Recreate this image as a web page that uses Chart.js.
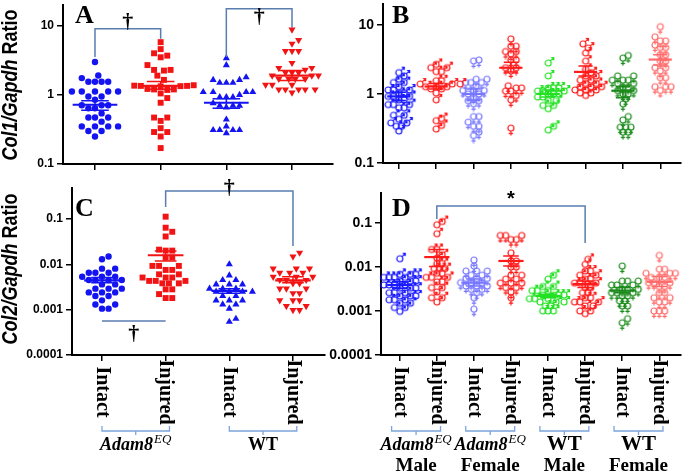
<!DOCTYPE html>
<html>
<head>
<meta charset="utf-8">
<script src="https://cdn.jsdelivr.net/npm/chart.js@4.4.1/dist/chart.umd.min.js"></script>
<style>
  html, body { margin: 0; padding: 0; background: #fff; }
  body { position: relative; width: 685px; height: 474px; overflow: hidden; }
  canvas { position: absolute; }
</style>
</head>
<body>
<canvas id="panelA" width="340" height="170" style="left:0;top:0;width:340px;height:170px"></canvas>
<canvas id="panelB" width="365" height="170" style="left:320px;top:0;width:365px;height:170px"></canvas>
<canvas id="panelC" width="340" height="304" style="left:0;top:170px;width:340px;height:304px"></canvas>
<canvas id="panelD" width="365" height="304" style="left:320px;top:170px;width:365px;height:304px"></canvas>
<script>
// categories
const catsPair = ['Intact', 'Injured', 'Intact', 'Injured'];
const catsSex = ['Intact', 'Injured', 'Intact', 'Injured', 'Intact', 'Injured', 'Intact', 'Injured'];
const ticksCol1 = [0.1, 1, 10];
const ticksCol2 = [0.0001, 0.001, 0.01, 0.1];

// A: Col1/Gapdh by genotype
const col1AdamIntact = [2.99, 1.91, 1.75, 1.55, 1.55, 1.55, 1.55, 1.12, 1.12, 1.12, 1.12, 1.12, 0.95, 0.95, 0.85, 0.71, 0.71, 0.71, 0.64, 0.64, 0.54, 0.47, 0.47, 0.47, 0.41, 0.35, 0.35, 0.35, 0.35, 0.30, 0.30, 0.25];
const col1AdamInjured = [5.8, 4.6, 4.0, 3.7, 3.5, 2.7, 2.3, 2.3, 2.25, 1.9, 1.65, 1.38, 1.35, 1.35, 1.33, 1.36, 1.34, 1.2, 1.22, 1.18, 1.2, 1.05, 0.9, 0.77, 0.47, 0.47, 0.42, 0.33, 0.29, 0.29, 0.25, 0.17];
const col1WtIntact = [3.4, 2.7, 1.8, 1.65, 1.65, 1.5, 1.5, 1.5, 1.1, 1.1, 1.1, 1.1, 1.0, 0.93, 0.93, 0.93, 0.76, 0.7, 0.7, 0.7, 0.66, 0.44, 0.35, 0.31, 0.31, 0.31, 0.31, 0.28];
const col1WtInjured = [8.8, 6.2, 5.5, 4.3, 4.3, 4.3, 2.9, 2.45, 2.45, 2.3, 2.1, 2.1, 2.1, 1.9, 1.9, 1.9, 1.7, 1.7, 1.7, 1.7, 1.4, 1.4, 1.4, 1.2, 1.2, 1.2, 1.2, 1.2, 1.08];
const col1Mean = [0.72, 1.35, 0.77, 1.9];
const col1SemLow = [0.60, 1.21, 0.64, 1.62];
const col1SemHigh = [0.82, 1.56, 0.88, 2.26];

// B: Col1/Gapdh by genotype and sex
const col1AdamMaleIntact = [2.03, 1.82, 1.63, 1.46, 1.46, 1.27, 1.14, 1.14, 1.14, 1.02, 1.02, 0.92, 0.92, 0.92, 0.82, 0.82, 0.7, 0.7, 0.7, 0.63, 0.63, 0.49, 0.49, 0.43, 0.38, 0.38, 0.34, 0.34, 0.29];
const col1AdamMaleInjured = [2.67, 2.4, 2.4, 2.1, 2.1, 1.55, 1.55, 1.39, 1.39, 1.39, 1.27, 1.27, 1.27, 1.18, 1.18, 1.03, 0.82, 0.44, 0.41, 0.35, 0.31];
const col1AdamFemaleIntact = [3.1, 3.0, 1.63, 1.63, 1.46, 1.46, 1.46, 1.31, 1.12, 1.12, 1.12, 1.0, 1.0, 0.9, 0.8, 0.8, 0.72, 0.47, 0.47, 0.39, 0.34, 0.34, 0.28, 0.25];
const col1AdamFemaleInjured = [6.25, 4.9, 4.9, 4.1, 4.1, 3.8, 3.1, 3.1, 2.4, 2.4, 2.15, 1.31, 1.22, 1.22, 1.1, 1.1, 0.95, 0.82, 0.32];
const col1WtMaleIntact = [2.8, 1.82, 1.22, 1.22, 1.22, 1.1, 1.1, 1.1, 1.0, 1.0, 1.0, 0.9, 0.9, 0.8, 0.8, 0.68, 0.68, 0.61, 0.34, 0.3];
const col1WtMaleInjured = [5.3, 4.6, 3.9, 2.98, 2.27, 2.03, 1.82, 1.82, 1.58, 1.58, 1.42, 1.42, 1.27, 1.27, 1.27, 1.14, 1.14, 1.14, 1.03, 1.03, 0.95];
const col1WtFemaleIntact = [3.6, 3.3, 1.82, 1.82, 1.58, 1.58, 1.58, 1.42, 1.42, 1.25, 1.25, 1.12, 1.12, 1.0, 1.0, 0.85, 0.72, 0.47, 0.42, 0.33, 0.33, 0.33, 0.28, 0.28];
const col1WtFemaleInjured = [9.4, 6.7, 5.85, 5.85, 5.1, 4.7, 4.7, 3.7, 3.7, 3.0, 3.0, 2.4, 2.4, 2.15, 1.72, 1.72, 1.27, 1.27, 1.27, 1.12];
const col1SexMean = [0.92, 1.28, 1.0, 2.39, 1.0, 2.08, 1.11, 3.14];
const col1SexSemLow = [0.80, 1.18, 0.80, 2.08, 0.90, 1.82, 0.88, 2.61];
const col1SexSemHigh = [1.06, 1.42, 1.18, 2.88, 1.14, 2.53, 1.27, 3.7];

// C: Col2/Gapdh by genotype
const col2AdamIntact = [0.0148, 0.0129, 0.008, 0.008, 0.0065, 0.0065, 0.0065, 0.0053, 0.0053, 0.0053, 0.0045, 0.0045, 0.0045, 0.0045, 0.0036, 0.0036, 0.0029, 0.0029, 0.0029, 0.0024, 0.0024, 0.0024, 0.002, 0.002, 0.0016, 0.0013, 0.0013, 0.00105, 0.00105];
const col2AdamInjured = [0.112, 0.064, 0.052, 0.041, 0.021, 0.02, 0.02, 0.014, 0.014, 0.0092, 0.0092, 0.0092, 0.0075, 0.0075, 0.006, 0.006, 0.0051, 0.0051, 0.0051, 0.0043, 0.0043, 0.0043, 0.0038, 0.0038, 0.0038, 0.0028, 0.0028, 0.0022, 0.0018, 0.0018];
const col2WtIntact = [0.01, 0.0057, 0.0045, 0.0045, 0.0036, 0.0036, 0.0036, 0.0029, 0.0029, 0.0029, 0.0025, 0.0025, 0.0025, 0.0025, 0.002, 0.002, 0.0016, 0.0016, 0.0016, 0.0013, 0.0013, 0.00105, 0.00063, 0.00054];
const col2WtInjured = [0.018, 0.0148, 0.008, 0.008, 0.008, 0.0065, 0.0065, 0.0065, 0.0053, 0.0053, 0.0053, 0.0045, 0.0045, 0.0045, 0.0038, 0.0038, 0.0029, 0.0029, 0.0029, 0.0023, 0.0023, 0.0016, 0.0016, 0.0016, 0.0012, 0.0012, 0.00098, 0.00098];
const col2Mean = [0.0044, 0.0158, 0.0026, 0.0044];
const col2SemLow = [0.0039, 0.0118, 0.0023, 0.0039];
const col2SemHigh = [0.0051, 0.0197, 0.0029, 0.0053];

// D: Col2/Gapdh by genotype and sex
const col2AdamMaleIntact = [0.0154, 0.0068, 0.0068, 0.0068, 0.0058, 0.0058, 0.0058, 0.0058, 0.0048, 0.0048, 0.0048, 0.0039, 0.0039, 0.0039, 0.0039, 0.0033, 0.0033, 0.0033, 0.0026, 0.0026, 0.0026, 0.0022, 0.0022, 0.0022, 0.0018, 0.0018, 0.0018, 0.0015, 0.0015, 0.0012, 0.0012, 0.00098];
const col2AdamMaleInjured = [0.108, 0.091, 0.057, 0.025, 0.025, 0.019, 0.016, 0.012, 0.012, 0.0092, 0.0092, 0.0092, 0.0072, 0.0072, 0.0058, 0.0058, 0.0058, 0.0046, 0.0046, 0.0034, 0.0034, 0.0027, 0.002, 0.002, 0.0016];
const col2AdamFemaleIntact = [0.0144, 0.0105, 0.0081, 0.0081, 0.0081, 0.0065, 0.0065, 0.0055, 0.0055, 0.0055, 0.0044, 0.0044, 0.0044, 0.0037, 0.0037, 0.0037, 0.0031, 0.0031, 0.0026, 0.002, 0.0011];
const col2AdamFemaleInjured = [0.052, 0.052, 0.052, 0.042, 0.042, 0.021, 0.0137, 0.0137, 0.01, 0.01, 0.0065, 0.0065, 0.0053, 0.0053, 0.0043, 0.0043, 0.0043, 0.0034, 0.0034, 0.0027, 0.002];
const col2WtMaleIntact = [0.0065, 0.0053, 0.0036, 0.0036, 0.0029, 0.0029, 0.0029, 0.0023, 0.0023, 0.0023, 0.0023, 0.0019, 0.0019, 0.0019, 0.0016, 0.0016, 0.0016, 0.0013, 0.0013, 0.001, 0.001, 0.001];
const col2WtMaleInjured = [0.0149, 0.0115, 0.0081, 0.0081, 0.0065, 0.0065, 0.0053, 0.0053, 0.0043, 0.0043, 0.0043, 0.0034, 0.0034, 0.0026, 0.0026, 0.002, 0.002, 0.0016, 0.0016, 0.0016, 0.0013, 0.0013, 0.001, 0.001, 0.00087];
const col2WtFemaleIntact = [0.0105, 0.0048, 0.0048, 0.0048, 0.0039, 0.0039, 0.0039, 0.0031, 0.0031, 0.0031, 0.0026, 0.0026, 0.0026, 0.0022, 0.0022, 0.0017, 0.0017, 0.0013, 0.0013, 0.00067, 0.00054];
const col2WtFemaleInjured = [0.0183, 0.0089, 0.0089, 0.0072, 0.0072, 0.0072, 0.0058, 0.0058, 0.0058, 0.0044, 0.0044, 0.0044, 0.0036, 0.0036, 0.0026, 0.0026, 0.002, 0.002, 0.0016, 0.0016, 0.001, 0.001, 0.001];
const col2SexMean = [0.0039, 0.0168, 0.0044, 0.0137, 0.0022, 0.0041, 0.0029, 0.0046];
const col2SexSemLow = [0.0033, 0.0102, 0.0037, 0.0105, 0.0020, 0.0034, 0.0026, 0.0036];
const col2SexSemHigh = [0.0046, 0.025, 0.0053, 0.0177, 0.0024, 0.0048, 0.0034, 0.0061];

const BLUE = '#1414f2';
const RED = '#f21414';
const sexColors = ['#1a1aff', '#ff1a1a', '#7676ff', '#ff1a1a', '#22e022', '#ff1a1a', '#1a8a1a', '#ff6b6b'];
const sexMale = [true, true, false, false, true, true, false, false];
const BRACKET = '#5a7db0';
const BRACE = '#7ba5dd';
const SERIF = '"Liberation Serif", "Times New Roman", serif';
const SANS = '"Liberation Sans", Arial, sans-serif';

// gender symbol drawn on a small canvas, used as pointStyle
function genderIcon(color, male) {
    const c = document.createElement('canvas');
    c.width = 16; c.height = 16;
    const g = c.getContext('2d');
    g.strokeStyle = color;
    g.lineWidth = 1.2;
    g.beginPath();
    g.arc(8, 8, 3.0, 0, Math.PI * 2);
    g.stroke();
    g.beginPath();
    if (male) {
        g.moveTo(10.2, 5.8); g.lineTo(13.5, 2.5);
        g.moveTo(10.8, 2.5); g.lineTo(13.5, 2.5); g.lineTo(13.5, 5.2);
    } else {
        g.moveTo(8, 11); g.lineTo(8, 15.5);
        g.moveTo(5.8, 13.4); g.lineTo(10.2, 13.4);
    }
    g.stroke();
    return c;
}

// simple beeswarm: offsets (in category units) so markers don't overlap
function swarmOffsets(values, pxDec, pxCat, diam) {
    const pts = values.map((v, i) => ({ i, y: Math.log10(v) * pxDec })).sort((a, b) => a.y - b.y);
    const placed = [];
    const off = new Array(values.length).fill(0);
    pts.forEach(p => {
        let best = 0;
        for (let k = 0; k < 60; k++) {
            const cands = k === 0 ? [0] : [k * diam * 0.5, -k * diam * 0.5];
            const ok = cands.find(cx => placed.every(q => Math.hypot(q.x - cx, q.y - p.y) >= diam));
            if (ok !== undefined) { best = ok; break; }
        }
        placed.push({ x: best, y: p.y });
        off[p.i] = best / pxCat;
    });
    return off;
}

function drawDagger(ctx, x, y, mark) {
    ctx.save();
    ctx.fillStyle = '#000';
    ctx.font = mark === '*' ? 'bold 20px ' + SANS : 'bold 22px ' + SERIF;
    ctx.textAlign = 'center';
    ctx.textBaseline = 'middle';
    ctx.fillText(mark, x, y);
    ctx.restore();
}

function drawAdamLabel(ctx, cx, baseline) {
    ctx.font = 'italic bold 18px ' + SERIF;
    const w1 = ctx.measureText('Adam8').width;
    ctx.font = 'italic 13px ' + SERIF;
    const w2 = ctx.measureText('EQ').width;
    const x0 = cx - (w1 + w2 + 1) / 2;
    ctx.textAlign = 'left';
    ctx.font = 'italic bold 18px ' + SERIF;
    ctx.fillText('Adam8', x0, baseline);
    ctx.font = 'italic 13px ' + SERIF;
    ctx.fillText('EQ', x0 + w1 + 1, baseline - 7);
}

function panelPlugin(p) {
    return {
        id: 'panelDecor',
        afterDatasetsDraw(chart) {
            const { ctx } = chart;
            const x = chart.scales.x, y = chart.scales.y;
            ctx.save();
            p.means.forEach((m, i) => {
                const pos = i + 1;
                const col = p.groups[i].color;
                ctx.strokeStyle = col;
                ctx.lineWidth = 2.2;
                ctx.beginPath();
                ctx.moveTo(x.getPixelForValue(pos - p.meanHalf), y.getPixelForValue(m));
                ctx.lineTo(x.getPixelForValue(pos + p.meanHalf), y.getPixelForValue(m));
                ctx.stroke();
                ctx.lineWidth = 1.5;
                const lo = y.getPixelForValue(p.semLow[i]);
                const hi = y.getPixelForValue(p.semHigh[i]);
                const xl = x.getPixelForValue(pos - p.semHalf);
                const xr = x.getPixelForValue(pos + p.semHalf);
                const xc = x.getPixelForValue(pos);
                ctx.beginPath();
                ctx.moveTo(xl, lo); ctx.lineTo(xr, lo);
                ctx.moveTo(xl, hi); ctx.lineTo(xr, hi);
                ctx.moveTo(xc, lo); ctx.lineTo(xc, hi);
                ctx.stroke();
            });
            ctx.restore();
        },
        afterDraw(chart) {
            const { ctx } = chart;
            const x = chart.scales.x, y = chart.scales.y;
            ctx.save();

            // significance brackets
            ctx.strokeStyle = BRACKET;
            ctx.lineWidth = 1.5;
            p.brackets.forEach(b => {
                const x1 = x.getPixelForValue(b.from), x2 = x.getPixelForValue(b.to);
                const yt = y.getPixelForValue(b.top);
                ctx.beginPath();
                ctx.moveTo(x1, y.getPixelForValue(b.left));
                ctx.lineTo(x1, yt);
                ctx.lineTo(x2, yt);
                ctx.lineTo(x2, y.getPixelForValue(b.right));
                ctx.stroke();
                drawDagger(ctx, (x1 + x2) / 2, yt + b.markDy, b.mark);
            });

            // panel letter
            ctx.fillStyle = '#000';
            ctx.font = 'bold 26px ' + SERIF;
            ctx.textAlign = 'left';
            ctx.textBaseline = 'alphabetic';
            ctx.fillText(p.letter, p.letterX, p.letterY);

            // y axis title
            if (p.yTitle) {
                ctx.save();
                ctx.translate(p.yTitle.x, p.yTitle.y);
                ctx.rotate(-Math.PI / 2);
                ctx.scale(1, 1.2);
                ctx.textBaseline = 'middle';
                ctx.font = 'italic bold 18px ' + SANS;
                const w1 = ctx.measureText(p.yTitle.italic).width;
                ctx.font = 'bold 18px ' + SANS;
                const w2 = ctx.measureText(p.yTitle.plain).width;
                const x0 = -(w1 + w2) / 2;
                ctx.font = 'italic bold 18px ' + SANS;
                ctx.fillText(p.yTitle.italic, x0, 0);
                ctx.font = 'bold 18px ' + SANS;
                ctx.fillText(p.yTitle.plain, x0 + w1, 0);
                ctx.restore();
            }

            // rotated category labels and group braces
            if (p.showLabels) {
                ctx.fillStyle = '#000';
                p.cats.forEach((c, i) => {
                    ctx.save();
                    ctx.translate(x.getPixelForValue(i + 1), p.labelY);
                    ctx.rotate(Math.PI / 2);
                    ctx.font = 'bold 20px ' + SERIF;
                    ctx.textAlign = 'center';
                    ctx.textBaseline = 'middle';
                    ctx.fillText(c, 0, 0);
                    ctx.restore();
                });
                p.groupLabels.forEach(g => {
                    const x1 = x.getPixelForValue(g.from - p.braceL);
                    const x2 = x.getPixelForValue(g.to + p.braceR);
                    const mid = (x1 + x2) / 2;
                    ctx.strokeStyle = BRACE;
                    ctx.lineWidth = 1.3;
                    ctx.beginPath();
                    ctx.moveTo(x1, p.braceY - 5); ctx.lineTo(x1, p.braceY); ctx.lineTo(x2, p.braceY); ctx.lineTo(x2, p.braceY - 5);
                    ctx.moveTo(mid, p.braceY); ctx.lineTo(mid, p.braceY + 4);
                    ctx.stroke();
                    ctx.fillStyle = '#000';
                    ctx.textBaseline = 'alphabetic';
                    if (g.adam) {
                        drawAdamLabel(ctx, mid, p.groupY);
                    } else {
                        ctx.font = 'bold ' + p.wtSize + 'px ' + SERIF;
                        ctx.textAlign = 'center';
                        ctx.fillText('WT', mid, p.groupY);
                    }
                    if (g.sex) {
                        ctx.font = 'bold 19px ' + SERIF;
                        ctx.textAlign = 'center';
                        ctx.fillText(g.sex, mid, p.sexY);
                    }
                });
            }
            ctx.restore();
        }
    };
}

function makePanel(p) {
    const a = p.area;
    const pxDec = (a.bottom - a.top) / Math.log10(p.yMax / p.yMin);
    const pxCat = (a.right - a.left) / (p.xMax - p.xMin);
    const datasets = p.groups.map((g, i) => {
        const off = swarmOffsets(g.values, pxDec, pxCat, p.diam);
        return {
            data: g.values.map((v, k) => ({ x: i + 1 + off[k], y: v })),
            pointStyle: g.style,
            pointRadius: g.r,
            pointRotation: g.rotation || 0,
            backgroundColor: g.color,
            borderColor: g.color,
            borderWidth: 0,
            clip: false
        };
    });

    return new Chart(document.getElementById(p.id), {
        type: 'scatter',
        data: { datasets },
        options: {
            responsive: false,
            animation: false,
            devicePixelRatio: 1,
            layout: { padding: { left: 0, top: a.top, right: p.width - a.right, bottom: 0 } },
            plugins: { legend: { display: false }, tooltip: { enabled: false } },
            scales: {
                x: {
                    type: 'linear', min: p.xMin, max: p.xMax, bounds: 'data',
                    afterBuildTicks: s => { s.ticks = p.cats.map((c, i) => ({ value: i + 1 })); },
                    afterFit: s => { s.height = p.height - a.bottom; s.paddingLeft = 0; s.paddingRight = 0; },
                    ticks: { callback: () => '', autoSkip: false, padding: 0, maxRotation: 0 },
                    grid: { drawOnChartArea: false, drawTicks: true, tickLength: 6, color: '#000', lineWidth: 1.5 },
                    border: { color: '#000', width: 2 }
                },
                y: {
                    type: 'logarithmic', min: p.yMin, max: p.yMax, bounds: 'data',
                    afterBuildTicks: s => { s.ticks = p.yTicks.map(v => ({ value: v })); },
                    afterFit: s => { s.width = a.left; s.paddingTop = 0; s.paddingBottom = 0; },
                    ticks: {
                        callback: v => String(v),
                        font: { family: SANS, weight: 'bold', size: p.tickSize },
                        color: '#000', padding: 3, autoSkip: false
                    },
                    grid: { drawOnChartArea: false, tickLength: 6, color: '#000', lineWidth: 1.5 },
                    border: { color: '#000', width: 2 }
                }
            }
        },
        plugins: [panelPlugin(p)]
    });
}

const pairStyles = [
    { color: BLUE, style: 'circle', r: 3.2 },
    { color: RED, style: 'rect', r: 4.2 },
    { color: BLUE, style: 'triangle', r: 4.1 },
    { color: RED, style: 'triangle', r: 4.1, rotation: 180 }
];
const icons = sexColors.map((c, i) => genderIcon(c, sexMale[i]));

makePanel({
    id: 'panelA', width: 340, height: 170,
    area: { left: 63, top: 5, right: 333, bottom: 164 },
    xMin: 0.513, xMax: 4.624, yMin: 0.1, yMax: 20, yTicks: ticksCol1, tickSize: 12,
    cats: catsPair, diam: 6.6, meanHalf: 0.34, semHalf: 0.21,
    groups: [col1AdamIntact, col1AdamInjured, col1WtIntact, col1WtInjured].map((v, i) => Object.assign({ values: v }, pairStyles[i])),
    means: col1Mean, semLow: col1SemLow, semHigh: col1SemHigh,
    brackets: [
        { from: 1, to: 2, left: 3.55, top: 9.05, right: 6.48, mark: '†', markDy: -6 },
        { from: 3, to: 4, left: 3.55, top: 17.6, right: 9.36, mark: '†', markDy: 8 }
    ],
    letter: 'A', letterX: 75, letterY: 23,
    yTitle: { italic: 'Col1/Gapdh', plain: ' Ratio', x: 11, y: 85 }
});

makePanel({
    id: 'panelB', width: 365, height: 170,
    area: { left: 63, top: 2, right: 365, bottom: 163 },
    xMin: 0.577, xMax: 8.555, yMin: 0.1, yMax: 20, yTicks: ticksCol1, tickSize: 14,
    cats: catsSex, diam: 5.4, meanHalf: 0.31, semHalf: 0.19,
    groups: [col1AdamMaleIntact, col1AdamMaleInjured, col1AdamFemaleIntact, col1AdamFemaleInjured,
             col1WtMaleIntact, col1WtMaleInjured, col1WtFemaleIntact, col1WtFemaleInjured]
        .map((v, i) => ({ values: v, color: sexColors[i], style: icons[i], r: 4 })),
    means: col1SexMean, semLow: col1SexSemLow, semHigh: col1SexSemHigh,
    brackets: [],
    letter: 'B', letterX: 72, letterY: 23
});

makePanel({
    id: 'panelC', width: 340, height: 304,
    area: { left: 72, top: 18, right: 325, bottom: 185 },
    xMin: 0.529, xMax: 4.503, yMin: 0.0001, yMax: 0.48, yTicks: ticksCol2, tickSize: 12,
    cats: catsPair, diam: 6.6, meanHalf: 0.28, semHalf: 0.17,
    groups: [col2AdamIntact, col2AdamInjured, col2WtIntact, col2WtInjured].map((v, i) => Object.assign({ values: v }, pairStyles[i])),
    means: col2Mean, semLow: col2SemLow, semHigh: col2SemHigh,
    brackets: [
        { from: 2, to: 4, left: 0.182, top: 0.41, right: 0.0252, mark: '†', markDy: -3 },
        { from: 1, to: 2, left: 0.00056, top: 0.00056, right: 0.00056, mark: '†', markDy: 13 }
    ],
    letter: 'C', letterX: 75, letterY: 46,
    yTitle: { italic: 'Col2/Gapdh', plain: ' Ratio', x: 11, y: 99 },
    showLabels: true, labelY: 222, braceY: 261, groupY: 280, sexY: 301, braceL: 0.0, braceR: 0.06, wtSize: 18,
    groupLabels: [{ from: 1, to: 2, adam: true }, { from: 3, to: 4, adam: false }]
});

makePanel({
    id: 'panelD', width: 365, height: 304,
    area: { left: 61, top: 23, right: 365, bottom: 185 },
    xMin: 0.494, xMax: 8.586, yMin: 0.0001, yMax: 0.48, yTicks: ticksCol2, tickSize: 14,
    cats: catsSex, diam: 5.4, meanHalf: 0.34, semHalf: 0.21,
    groups: [col2AdamMaleIntact, col2AdamMaleInjured, col2AdamFemaleIntact, col2AdamFemaleInjured,
             col2WtMaleIntact, col2WtMaleInjured, col2WtFemaleIntact, col2WtFemaleInjured]
        .map((v, i) => ({ values: v, color: sexColors[i], style: icons[i], r: 4 })),
    means: col2SexMean, semLow: col2SexSemLow, semHigh: col2SexSemHigh,
    brackets: [
        { from: 2, to: 6, left: 0.123, top: 0.243, right: 0.0351, mark: '*', markDy: -7 }
    ],
    letter: 'D', letterX: 72, letterY: 46,
    showLabels: true, labelY: 222, braceY: 261, groupY: 280, sexY: 301, braceL: 0.22, braceR: 0.1, wtSize: 21,
    groupLabels: [
        { from: 1, to: 2, adam: true, sex: 'Male' },
        { from: 3, to: 4, adam: true, sex: 'Female' },
        { from: 5, to: 6, adam: false, sex: 'Male' },
        { from: 7, to: 8, adam: false, sex: 'Female' }
    ]
});
</script>
</body>
</html>
